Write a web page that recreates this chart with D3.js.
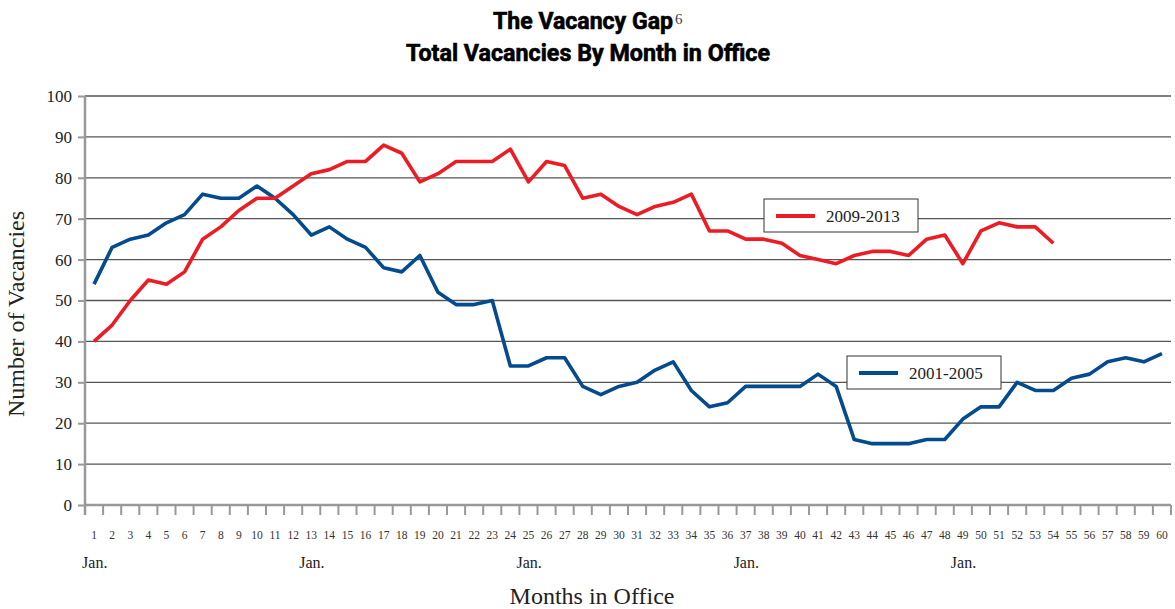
<!DOCTYPE html>
<html>
<head>
<meta charset="utf-8">
<script src="https://cdn.jsdelivr.net/npm/d3@7"></script>
<style>
  body { margin: 0; background: #fff; }
  .serif { font-family: "Liberation Serif", "DejaVu Serif", serif; }
</style>
</head>
<body>
<div id="chart"></div>
<script>
// months in office 1..60
var months = d3.range(1, 61);

var vac2001 = [54, 63, 65, 66, 69, 71, 76, 75, 75, 78, 75, 71, 66, 68, 65, 63, 58, 57, 61, 52,
               49, 49, 50, 34, 34, 36, 36, 29, 27, 29, 30, 33, 35, 28, 24, 25, 29, 29, 29, 29,
               32, 29, 16, 15, 15, 15, 16, 16, 21, 24, 24, 30, 28, 28, 31, 32, 35, 36, 35, 37];

var vac2009 = [40, 44, 50, 55, 54, 57, 65, 68, 72, 75, 75, 78, 81, 82, 84, 84, 88, 86, 79, 81,
               84, 84, 84, 87, 79, 84, 83, 75, 76, 73, 71, 73, 74, 76, 67, 67, 65, 65, 64, 61,
               60, 59, 61, 62, 62, 61, 65, 66, 59, 67, 69, 68, 68, 64];

var yTicks = [0, 10, 20, 30, 40, 50, 60, 70, 80, 90, 100];
var janMonths = [1, 13, 25, 37, 49];

var seriesNames = ['2009-2013', '2001-2005'];
var seriesColors = ['#ed1c24', '#034b8e'];

var W = 1175, H = 609;
var margin = {top: 96, right: 4, bottom: 104, left: 85},
    width = W - margin.left - margin.right,
    height = H - margin.top - margin.bottom;

var svg = d3.select('#chart').append('svg')
    .attr('width', W)
    .attr('height', H);

var g = svg.append('g')
    .attr('transform', 'translate(' + margin.left + ',' + margin.top + ')');

var x = d3.scaleBand()
    .domain(months)
    .range([0, width]);

var y = d3.scaleLinear()
    .domain([0, 100])
    .range([height, 0]);

var cx = function(m) { return x(m) + x.bandwidth() / 2; };

// gridlines
g.selectAll('.grid')
    .data(yTicks.filter(function(d) { return d > 0; }))
    .enter().append('line')
    .attr('class', 'grid')
    .attr('x1', 0)
    .attr('x2', width)
    .attr('y1', function(d) { return y(d); })
    .attr('y2', function(d) { return y(d); })
    .attr('stroke', '#555')
    .attr('stroke-width', 1.3);

// y axis
var yAxis = d3.axisLeft(y)
    .tickValues(yTicks)
    .tickSize(7)
    .tickPadding(6);

var ya = g.append('g')
    .attr('class', 'y axis')
    .call(yAxis);
ya.select('.domain').remove();
ya.selectAll('line').attr('stroke', '#999').attr('stroke-width', 2);
ya.selectAll('text')
    .attr('class', 'serif')
    .attr('font-size', '17px')
    .attr('fill', '#222');
ya.append('line')
    .attr('x1', 0).attr('x2', 0)
    .attr('y1', 0).attr('y2', height + 10)
    .attr('stroke', '#999')
    .attr('stroke-width', 2.5);

// x axis
var xa = g.append('g')
    .attr('class', 'x axis')
    .attr('transform', 'translate(0,' + height + ')');

xa.append('line')
    .attr('x1', 0).attr('x2', width)
    .attr('stroke', '#999')
    .attr('stroke-width', 2.5);

xa.selectAll('.xtick')
    .data(months.slice(1).concat(['end']))
    .enter().append('line')
    .attr('class', 'xtick')
    .attr('x1', function(d) { return d === 'end' ? width : x(d); })
    .attr('x2', function(d) { return d === 'end' ? width : x(d); })
    .attr('y1', 0)
    .attr('y2', 10)
    .attr('stroke', '#999')
    .attr('stroke-width', 2);

xa.selectAll('.xlabel')
    .data(months)
    .enter().append('text')
    .attr('class', 'serif')
    .attr('x', cx)
    .attr('y', 34)
    .attr('text-anchor', 'middle')
    .attr('font-size', '11.5px')
    .attr('fill', '#333')
    .text(function(d) { return d; });

xa.selectAll('.jan')
    .data(janMonths)
    .enter().append('text')
    .attr('class', 'serif')
    .attr('x', function(d) { return cx(d) - 12; })
    .attr('y', 63)
    .attr('font-size', '16px')
    .attr('fill', '#222')
    .text('Jan.');

// lines
var line = d3.line()
    .x(function(d, i) { return cx(months[i]); })
    .y(function(d) { return y(d); });

[vac2001, vac2009].forEach(function(vals, i) {
    g.append('path')
        .datum(vals)
        .attr('fill', 'none')
        .attr('stroke', seriesColors[1 - i])
        .attr('stroke-width', 3.6)
        .attr('stroke-linejoin', 'round')
        .attr('d', line);
});

// legends
var legends = [
    {name: seriesNames[0], color: seriesColors[0], x: 764, y: 199},
    {name: seriesNames[1], color: seriesColors[1], x: 847, y: 356}
];

legends.forEach(function(l) {
    var lg = svg.append('g').attr('transform', 'translate(' + l.x + ',' + l.y + ')');
    lg.append('rect')
        .attr('width', 154)
        .attr('height', 33)
        .attr('fill', '#fff')
        .attr('stroke', '#333')
        .attr('stroke-width', 1);
    lg.append('line')
        .attr('x1', 12).attr('x2', 51)
        .attr('y1', 17).attr('y2', 17)
        .attr('stroke', l.color)
        .attr('stroke-width', 4);
    lg.append('text')
        .attr('class', 'serif')
        .attr('x', 62)
        .attr('y', 23)
        .attr('font-size', '17px')
        .attr('fill', '#222')
        .text(l.name);
});

// titles
svg.append('text')
    .attr('x', 493)
    .attr('y', 29)
    .attr('font-family', 'Roboto, "Liberation Sans", sans-serif')
    .attr('font-weight', 'bold')
    .attr('font-size', '23px')
    .attr('stroke', '#000')
    .attr('stroke-width', 0.6)
    .attr('textLength', 180)
    .attr('lengthAdjust', 'spacingAndGlyphs')
    .text('The Vacancy Gap');

svg.append('text')
    .attr('class', 'serif')
    .attr('x', 675)
    .attr('y', 24)
    .attr('font-size', '15px')
    .attr('fill', '#444')
    .text('6');

svg.append('text')
    .attr('x', 406)
    .attr('y', 61)
    .attr('font-family', 'Roboto, "Liberation Sans", sans-serif')
    .attr('font-weight', 'bold')
    .attr('font-size', '23px')
    .attr('stroke', '#000')
    .attr('stroke-width', 0.6)
    .attr('textLength', 364)
    .attr('lengthAdjust', 'spacingAndGlyphs')
    .text('Total Vacancies By Month in Office');

// axis titles
svg.append('text')
    .attr('class', 'serif')
    .attr('transform', 'translate(24,314) rotate(-90)')
    .attr('text-anchor', 'middle')
    .attr('font-size', '24px')
    .attr('fill', '#222')
    .text('Number of Vacancies');

svg.append('text')
    .attr('class', 'serif')
    .attr('x', 592)
    .attr('y', 604)
    .attr('text-anchor', 'middle')
    .attr('font-size', '24px')
    .attr('fill', '#222')
    .text('Months in Office');
</script>
</body>
</html>
